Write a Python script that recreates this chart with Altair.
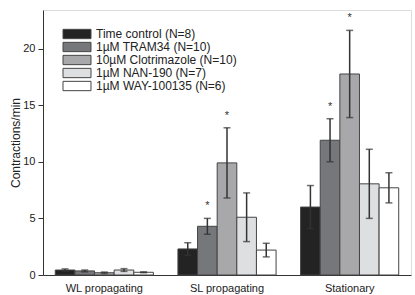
import altair as alt
import pandas as pd

groups = ["WL propagating", "SL propagating", "Stationary"]
series = ["Time control (N=8)", "1µM TRAM34 (N=10)", "10µM Clotrimazole (N=10)",
          "1µM NAN-190 (N=7)", "1µM WAY-100135 (N=6)"]
colors = ["#232323", "#76777a", "#a8a8aa", "#dedfe1", "#ffffff"]

means = {
    "WL propagating": [0.44, 0.36, 0.20, 0.44, 0.24],
    "SL propagating": [2.3, 4.3, 9.9, 5.1, 2.2],
    "Stationary": [6.0, 11.9, 17.75, 8.05, 7.7],
}
errs = {
    "WL propagating": [0.10, 0.08, 0.06, 0.12, 0.04],
    "SL propagating": [0.55, 0.7, 3.1, 2.15, 0.6],
    "Stationary": [1.9, 1.9, 3.85, 3.05, 1.33],
}
stars = {
    "WL propagating": [0, 0, 0, 0, 0],
    "SL propagating": [0, 1, 1, 0, 0],
    "Stationary": [0, 1, 1, 0, 0],
}

rows = []
for g in groups:
    for i, s in enumerate(series):
        m = means[g][i]
        e = errs[g][i]
        rows.append({"group": g, "series": s, "mean": m, "lo": m - e, "hi": m + e,
                     "star": stars[g][i]})
df = pd.DataFrame(rows)

font = "Liberation Sans"
ydom = [0, 23.4]

x = alt.X("group:N", sort=groups, title=None,
          scale=alt.Scale(paddingInner=0.2, paddingOuter=0.1),
          axis=alt.Axis(labelAngle=0, ticks=False, labelPadding=7, labelFont=font,
                        labelFontSize=11, labelColor="#222", domainColor="#333",
                        domainWidth=1))
xo = alt.XOffset("series:N", sort=series, scale=alt.Scale(paddingInner=0, paddingOuter=0))

base = alt.Chart(df)

bars = base.mark_bar(stroke="#444", strokeWidth=1).encode(
    x=x,
    xOffset=xo,
    y=alt.Y("mean:Q", scale=alt.Scale(domain=ydom, nice=False), title="Contractions/min",
            axis=alt.Axis(values=[0, 2.5, 5, 7.5, 10, 12.5, 15, 17.5, 20, 22.5],
                          labelExpr="datum.value % 5 === 0 ? datum.label : ''",
                          tickSize={"condition": {"test": "datum.value % 5 === 0", "value": 5}, "value": 3},
                          grid=False, labelFont=font, labelFontSize=11, labelColor="#222",
                          tickColor="#333", domainColor="#333", labelPadding=3,
                          titleFont=font, titleFontSize=12, titleFontWeight="normal",
                          titleColor="#222", titlePadding=0)),
    fill=alt.Fill("series:N", sort=series,
                  scale=alt.Scale(domain=series, range=colors),
                  legend=alt.Legend(title=None, orient="none", legendX=28, legendY=18,
                                    symbolType="M-3,-1H3V1H-3Z", symbolSize=87,
                                    symbolStrokeColor="#444", symbolStrokeWidth=1,
                                    symbolOpacity=1, labelFont=font, labelFontSize=12,
                                    labelColor="#222", rowPadding=-1, labelOffset=13,
                                    labelLimit=300, padding=0)),
)

rules = base.mark_rule(color="#333", strokeWidth=1.5).encode(
    x=alt.X("group:N", sort=groups), xOffset=xo,
    y="lo:Q", y2="hi:Q",
)
cap_hi = base.mark_tick(color="#333", thickness=1.5, size=7, orient="horizontal").encode(
    x=alt.X("group:N", sort=groups), xOffset=xo, y="hi:Q",
)
cap_lo = base.mark_tick(color="#333", thickness=1.5, size=7, orient="horizontal").encode(
    x=alt.X("group:N", sort=groups), xOffset=xo, y="lo:Q",
)
star_marks = base.transform_filter("datum.star == 1").mark_text(
    text="*", baseline="bottom", dy=-7, font=font, fontSize=11, color="#333"
).encode(
    x=alt.X("group:N", sort=groups), xOffset=xo, y="hi:Q",
)

chart = alt.layer(bars, rules, cap_hi, cap_lo, star_marks).properties(
    width=368, height=265,
    autosize=alt.AutoSizeParams(type="none"),
    padding={"left": 43, "top": 10, "right": 4, "bottom": 20},
).configure_view(stroke=None).configure(background="white")

chart.save("out.html", embed_options={"renderer": "svg", "actions": False})
